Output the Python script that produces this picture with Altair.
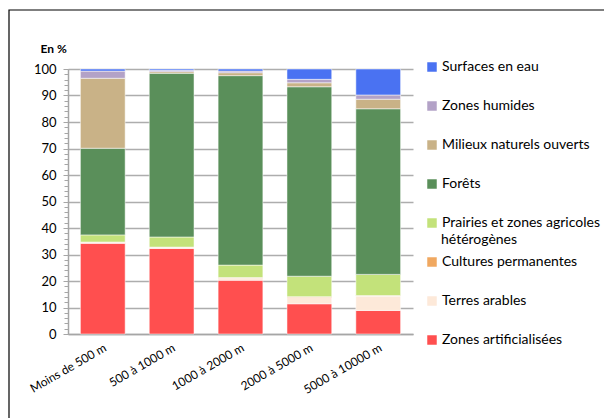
import altair as alt
import pandas as pd

# distance bands (x categories)
bands = ["Moins de 500 m", "500 à 1000 m", "1000 à 2000 m", "2000 à 5000 m", "5000 à 10000 m"]

# land-cover classes, listed from the bottom of each stack to the top
classes = [
    "Zones artificialisées",
    "Terres arables",
    "Cultures permanentes",
    "Prairies et zones agricoles hétérogènes",
    "Forêts",
    "Milieux naturels ouverts",
    "Zones humides",
    "Surfaces en eau",
]
class_colors = ["#FF4F4F", "#FDE9D9", "#F0A860", "#C3E27A",
                "#5A8F5A", "#C9B287", "#B3A2C7", "#4A72F2"]

# shares in % per band
artificialisees = [34.2, 32.3, 20.3, 11.4, 8.9]
terres_arables = [0.4, 0.4, 0.7, 2.4, 5.4]
cultures_permanentes = [0.1, 0.1, 0.3, 0.3, 0.2]
prairies = [2.7, 3.8, 4.7, 7.7, 8.0]
forets = [32.7, 61.8, 71.5, 71.5, 62.5]
milieux_ouverts = [26.4, 0.6, 1.1, 1.5, 3.6]
zones_humides = [2.7, 0.5, 0.6, 1.3, 1.6]
surfaces_eau = [0.8, 0.5, 0.8, 3.9, 9.8]

series = [artificialisees, terres_arables, cultures_permanentes, prairies,
          forets, milieux_ouverts, zones_humides, surfaces_eau]

rows = []
for rank, (name, values) in enumerate(zip(classes, series)):
    for band, v in zip(bands, values):
        rows.append({"bande": band, "classe": name, "part": v, "rang": rank})
df = pd.DataFrame(rows)

FONT = "Lato"

legend_order = classes[::-1]
legend_colors = class_colors[::-1]

bars = alt.Chart(df).mark_bar(
    stroke="white", strokeWidth=1, strokeOpacity=0.5
).encode(
    x=alt.X("bande:N", sort=bands,
            scale=alt.Scale(paddingInner=0.35, paddingOuter=0.18),
            axis=alt.Axis(title=None, labelAngle=-30, labelAlign="right",
                          labelBaseline="top", labelPadding=8, ticks=False,
                          labelFontSize=12, labelColor="#000000", labelFont=FONT,
                          domainColor="#A6A6A6", domainWidth=1.5)),
    y=alt.Y("part:Q", stack="zero",
            scale=alt.Scale(domain=[0, 100], nice=False),
            axis=alt.Axis(orient="left", values=list(range(0, 101, 10)), title="En %",
                          titleAngle=0, titleAlign="left", titleBaseline="middle",
                          titleX=-28, titleY=-21, titleFont=FONT, titleFontSize=12,
                          titleFontWeight="bold", titleColor="#000000",
                          labelFont=FONT, labelFontSize=13, labelColor="#000000",
                          labelPadding=7, tickSize=5, tickColor="#A6A6A6",
                          domainColor="#A6A6A6", domainWidth=1.5,
                          grid=True, gridColor="#ADADAD", gridWidth=1.5)),
    color=alt.Color("classe:N",
                    scale=alt.Scale(domain=legend_order, range=legend_colors),
                    legend=alt.Legend(
                        title=None, orient="none", legendX=357, legendY=-9,
                        symbolType="square", symbolSize=90, symbolStrokeWidth=0,
                        labelFont=FONT, labelFontSize=14, labelColor="#000000",
                        labelOffset=3, rowPadding=25, labelLimit=200,
                        labelExpr="datum.label == 'Prairies et zones agricoles hétérogènes' ? 'Prairies et zones agricoles' : datum.label")),
    order=alt.Order("rang:Q", sort="ascending"),
)

# second line of the wrapped "Prairies" legend entry
legend_wrap = alt.Chart(pd.DataFrame({"t": ["hétérogènes"]})).mark_text(
    align="left", baseline="middle", font=FONT, fontSize=14, color="#000000"
).encode(text="t:N", x=alt.value(373), y=alt.value(171))

# minor ticks every 2 % on the value axis
minor = alt.Chart(df).mark_bar(opacity=0).encode(
    y=alt.Y("part:Q", stack="zero",
            axis=alt.Axis(values=list(range(0, 101, 2)), labels=False, title=None,
                          orient="left", grid=False, domain=False,
                          tickSize=4, tickColor="#A6A6A6")),
)

# outer frame of the figure
frame = alt.Chart(pd.DataFrame({"f": [0]})).mark_rect(
    fill="transparent", stroke="#000000", strokeWidth=1.2
).encode(x=alt.value(-59), x2=alt.value(545), y=alt.value(-59), y2=alt.value(370))

chart = alt.layer(frame, minor, bars, legend_wrap).resolve_axis(y="independent").properties(
    width=345, height=265,
    autosize=alt.AutoSizeParams(type="none"),
    padding={"left": 68, "top": 69, "right": 191, "bottom": 84},
    background="white",
).configure_view(stroke=None)

chart.save("out.html", embed_options={"renderer": "svg", "actions": False})
